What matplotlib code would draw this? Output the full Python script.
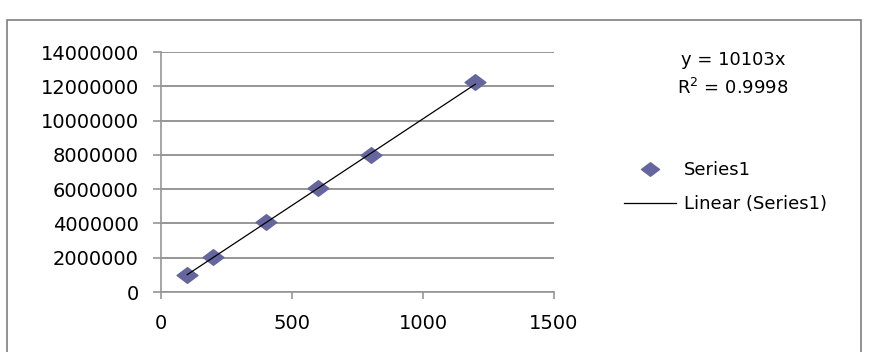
import numpy as np
import matplotlib
matplotlib.use('Agg')
import matplotlib.pyplot as plt
from matplotlib.path import Path
from matplotlib.patches import Rectangle
from matplotlib.lines import Line2D

# data
x_vals = [100, 200, 400, 600, 800, 1200]
y_vals = [1000000, 2050000, 4100000, 6050000, 8000000, 12250000]
slope = 10103
r_squared = 0.9998
x_ticks = [0, 500, 1000, 1500]
y_ticks = [0, 2000000, 4000000, 6000000, 8000000, 10000000, 12000000, 14000000]

plt.rcParams['font.family'] = ['DejaVu Sans']

marker_color = '#66669E'
grid_color = '#969696'

# squat diamond like the Excel marker
diamond = Path([(-1, 0), (0, 0.75), (1, 0), (0, -0.75), (-1, 0)],
               [Path.MOVETO, Path.LINETO, Path.LINETO, Path.LINETO, Path.CLOSEPOLY])

fig = plt.figure(figsize=(8.74, 3.52), dpi=100)
ax = fig.add_axes([161 / 874, 1 - 292 / 352, (554 - 161) / 874, (292 - 52) / 352])

# outer chart border (bottom edge is off the picture)
fig.patches.append(Rectangle((7 / 874, -0.1), (861 - 7) / 874, (1 - 20 / 352) + 0.1,
                             transform=fig.transFigure, fill=False,
                             edgecolor='#7F7F7F', linewidth=1.2))

ax.set_xlim(0, 1500)
ax.set_ylim(0, 14000000)
ax.set_xticks(x_ticks)
ax.set_yticks(y_ticks)
ax.set_xticklabels([str(t) for t in x_ticks])
ax.set_yticklabels([str(t) for t in y_ticks])

ax.yaxis.grid(True, color=grid_color, linewidth=1.4)
ax.set_axisbelow(True)
for side in ['top', 'right']:
    ax.spines[side].set_visible(False)
for side in ['left', 'bottom']:
    ax.spines[side].set_color(grid_color)
    ax.spines[side].set_linewidth(1.2)

ax.tick_params(axis='y', direction='out', length=6, width=1.2, color=grid_color,
               labelsize=14, pad=10)
ax.tick_params(axis='x', direction='out', length=5, width=1.2, color=grid_color,
               labelsize=14, pad=11)

ax.plot(x_vals, y_vals, linestyle='none', marker=diamond, markersize=15,
        markerfacecolor=marker_color, markeredgecolor=marker_color, zorder=3)

x_fit = np.array([min(x_vals), max(x_vals)])
ax.plot(x_fit, slope * x_fit, color='black', linewidth=0.9, zorder=4)

fig.text(733 / 874, 1 - 60 / 352, 'y = %dx' % slope, ha='center', va='center', fontsize=13)
fig.text(733 / 874, 1 - 88 / 352, 'R$^2$ = %.4f' % r_squared, ha='center', va='center',
         fontsize=13)

handles = [
    Line2D([], [], linestyle='none', marker=diamond, markersize=13,
           markerfacecolor=marker_color, markeredgecolor=marker_color),
    Line2D([], [], color='black', linewidth=0.9),
]
fig.legend(handles, ['Series1', 'Linear (Series1)'], loc='upper left',
           bbox_to_anchor=(624 / 874, 1 - 161 / 352), frameon=False, fontsize=13,
           handlelength=2.9, handletextpad=0.4, labelspacing=0.9, borderpad=0,
           borderaxespad=0)

plt.savefig('out.png', dpi=100)
